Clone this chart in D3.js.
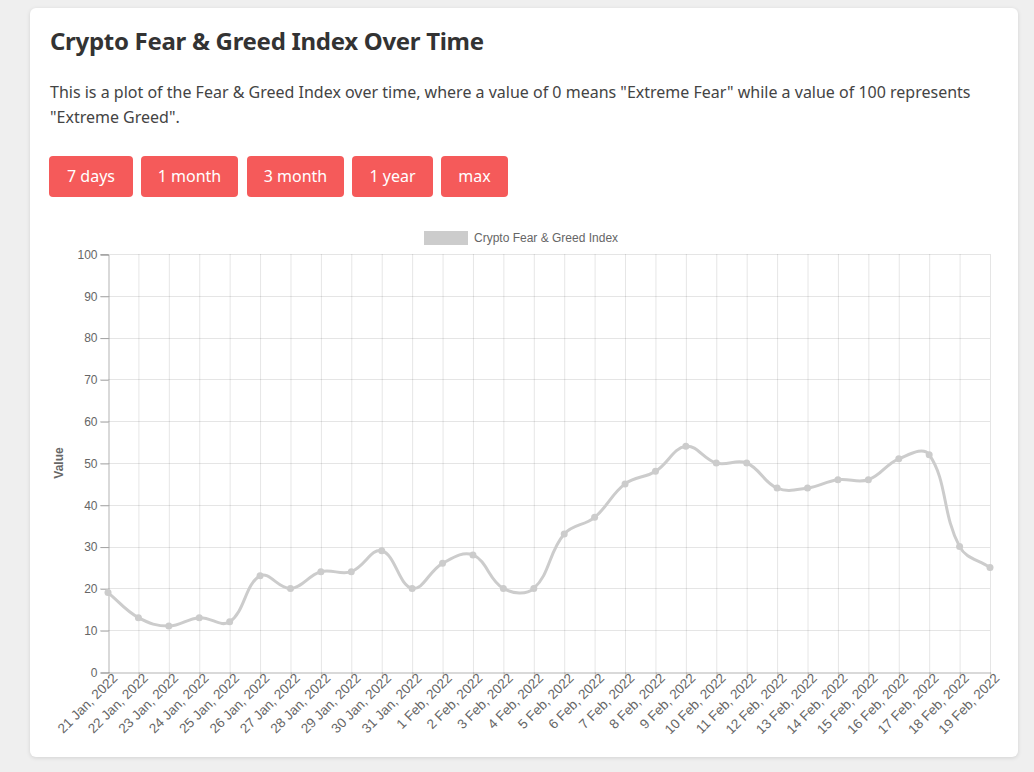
<!DOCTYPE html>
<html>
<head>
<meta charset="utf-8">
<script src="https://cdn.jsdelivr.net/npm/d3@7"></script>
<style>
  body { margin:0; background:#efefef; font-family:"Noto Sans", sans-serif; width:1034px; height:772px; overflow:hidden; position:relative; }
  .card { position:absolute; left:30px; top:8px; width:988px; height:749px; background:#fff; border-radius:6px; box-shadow:0 1px 4px rgba(0,0,0,0.12); }
  h2 { position:absolute; left:20px; top:16px; margin:0; font-size:24px; font-weight:700; color:#333; letter-spacing:-0.3px; }
  p { position:absolute; left:20px; top:72px; width:950px; margin:0; font-size:16px; line-height:25px; color:#444; }
  .btn { position:absolute; top:148px; height:41px; background:#f55a5a; color:#fff; border-radius:4px; font-size:16px; line-height:41px; text-align:center; }
  svg { position:absolute; left:0; top:0; }
</style>
</head>
<body>
<div class="card">
  <h2>Crypto Fear &amp; Greed Index Over Time</h2>
  <p>This is a plot of the Fear &amp; Greed Index over time, where a value of 0 means "Extreme Fear" while a value of 100 represents "Extreme Greed".</p>
  <div id="buttons"></div>
</div>
<svg id="graph"></svg>
<script>
var dates = ["21 Jan, 2022","22 Jan, 2022","23 Jan, 2022","24 Jan, 2022","25 Jan, 2022","26 Jan, 2022","27 Jan, 2022","28 Jan, 2022","29 Jan, 2022","30 Jan, 2022","31 Jan, 2022",
  "1 Feb, 2022","2 Feb, 2022","3 Feb, 2022","4 Feb, 2022","5 Feb, 2022","6 Feb, 2022","7 Feb, 2022","8 Feb, 2022","9 Feb, 2022","10 Feb, 2022","11 Feb, 2022","12 Feb, 2022","13 Feb, 2022","14 Feb, 2022","15 Feb, 2022","16 Feb, 2022","17 Feb, 2022","18 Feb, 2022","19 Feb, 2022"];
var values = [19,13,11,13,12,23,20,24,24,29,20,26,28,20,20,33,37,45,48,54,50,50,44,44,46,46,51,52,30,25];
var yTicks = [0,10,20,30,40,50,60,70,80,90,100];
var buttonLabels = ["7 days","1 month","3 month","1 year","max"];
var buttonLefts = [19,111,217,322,411];
var buttonWidths = [84,97,97,81,67];

d3.select("#buttons").selectAll("div")
  .data(buttonLabels)
  .enter()
  .append("div")
  .attr("class","btn")
  .style("left",function(d,i){ return buttonLefts[i]+"px" })
  .style("width",function(d,i){ return buttonWidths[i]+"px" })
  .text(function(d){ return d })

var screen = {width:1034, height:772}
var plot = {left:108, right:990, top:254, bottom:672}
var svg = d3.select("#graph")
  .attr("width", screen.width)
  .attr("height", screen.height)
  .style("font-family","Arial, 'Liberation Sans', sans-serif")

var xScale = d3.scalePoint()
  .domain(dates)
  .range([plot.left, plot.right])
var yScale = d3.scaleLinear()
  .domain([0,100])
  .range([plot.bottom, plot.top])

// grid
svg.append("g")
  .selectAll("line")
  .data(dates.slice(1))
  .enter()
  .append("line")
  .attr("x1",function(d){ return xScale(d)+0.5 })
  .attr("x2",function(d){ return xScale(d)+0.5 })
  .attr("y1",plot.top)
  .attr("y2",plot.bottom+5)
  .attr("stroke","rgba(0,0,0,0.1)")
svg.append("g")
  .selectAll("line")
  .data(yTicks.slice(1))
  .enter()
  .append("line")
  .attr("x1",plot.left-8)
  .attr("x2",plot.right)
  .attr("y1",function(d){ return Math.round(yScale(d))+0.5 })
  .attr("y2",function(d){ return Math.round(yScale(d))+0.5 })
  .attr("stroke","rgba(0,0,0,0.1)")

// axes
var yAxis = d3.axisLeft(yScale).tickValues(yTicks).tickSize(8).tickPadding(3)
svg.append("g")
  .attr("transform","translate("+(plot.left+0.5)+",0.5)")
  .call(yAxis)
  .call(function(g){
    g.select(".domain").attr("stroke","rgba(0,0,0,0.3)")
    g.selectAll(".tick line").attr("stroke","rgba(0,0,0,0.3)")
    g.selectAll("text").attr("fill","#666").attr("font-size","12px").attr("font-family","Arial, 'Liberation Sans', sans-serif")
  })

var xAxis = d3.axisBottom(xScale).tickSize(5).tickSizeOuter(0)
svg.append("g")
  .attr("transform","translate(0.5,"+(plot.bottom+0.5)+")")
  .call(xAxis)
  .call(function(g){
    g.select(".domain").attr("stroke","rgba(0,0,0,0.3)")
    g.selectAll(".tick line").attr("stroke","rgba(0,0,0,0.1)")
    g.selectAll("text")
      .attr("fill","#666").attr("font-size","13.5px").attr("font-family","Arial, 'Liberation Sans', sans-serif")
      .attr("text-anchor","end")
      .attr("dy","0.35em")
      .attr("transform","translate(6,3) rotate(-45)")
      .attr("y",0).attr("x",0)
  })

// y title
svg.append("text")
  .attr("transform","translate(63,"+((plot.top+plot.bottom)/2)+") rotate(-90)")
  .attr("text-anchor","middle")
  .attr("fill","#666")
  .attr("font-size","12px")
  .attr("font-weight","bold")
  .text("Value")

// legend
svg.append("rect")
  .attr("x",424).attr("y",231).attr("width",44).attr("height",14)
  .attr("fill","#cccccc")
svg.append("text")
  .attr("x",474).attr("y",242)
  .attr("fill","#666").attr("font-size","12px")
  .text("Crypto Fear & Greed Index")

// spline like chart.js (tension 0.4), control points from scaled points
var pts = values.map(function(d,i){ return [xScale(dates[i]), yScale(d)] })
var t = 0.4
var ctrl = pts.map(function(p,i){
  var prev = pts[Math.max(i-1,0)], next = pts[Math.min(i+1,pts.length-1)]
  var d01 = Math.hypot(p[0]-prev[0], p[1]-prev[1])
  var d12 = Math.hypot(next[0]-p[0], next[1]-p[1])
  var s01 = d01/(d01+d12) || 0, s12 = d12/(d01+d12) || 0
  var fa = t*s01, fb = t*s12
  return {
    prev:[p[0]-fa*(next[0]-prev[0]), p[1]-fa*(next[1]-prev[1])],
    next:[p[0]+fb*(next[0]-prev[0]), p[1]+fb*(next[1]-prev[1])]
  }
})
var path = d3.path()
path.moveTo(pts[0][0], pts[0][1])
for (var i = 1; i < pts.length; i++) {
  path.bezierCurveTo(ctrl[i-1].next[0], ctrl[i-1].next[1], ctrl[i].prev[0], ctrl[i].prev[1], pts[i][0], pts[i][1])
}
svg.append("path")
  .attr("d",path.toString())
  .attr("fill","none")
  .attr("stroke","#cccccc")
  .attr("stroke-width",3)

svg.append("g")
  .selectAll("circle")
  .data(values)
  .enter()
  .append("circle")
  .attr("cx",function(d,i){ return xScale(dates[i]) })
  .attr("cy",function(d){ return yScale(d) })
  .attr("r",3.5)
  .attr("fill","#cccccc")
</script>
</body>
</html>
